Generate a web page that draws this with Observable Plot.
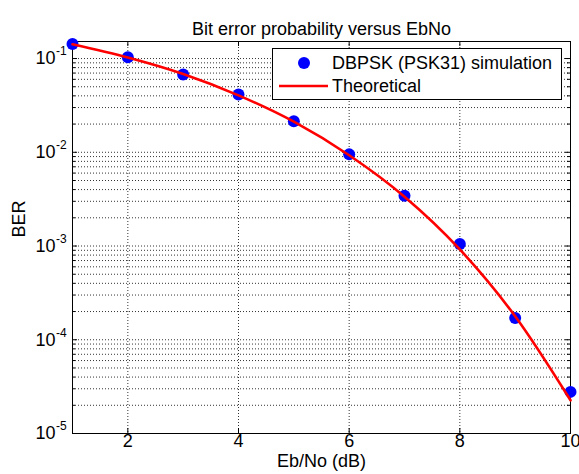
<!DOCTYPE html>
<html>
<head>
<meta charset="utf-8">
<script src="https://cdn.jsdelivr.net/npm/d3@7"></script>
<script src="https://cdn.jsdelivr.net/npm/@observablehq/plot@0.6"></script>
<style>
  html, body { margin: 0; padding: 0; background: #fff; }
  #wrap { position: relative; width: 579px; height: 474px; font-family: "Liberation Sans", Arial, sans-serif; }
  #legend { position: absolute; left: 272px; top: 48px; width: 290px; height: 52px; border: 1px solid #000; background: #fff; box-sizing: border-box; }
  #legend .row { position: absolute; left: 0; height: 20px; width: 100%; }
  #legend .lbl { position: absolute; left: 59px; top: 0; font-size: 18px; line-height: 20px; color: #000; white-space: nowrap; }
  #legend svg { position: absolute; left: 0; top: 0; }
</style>
</head>
<body>
<div id="wrap">
  <div id="chart"></div>
  <div id="legend"></div>
</div>
<script>
const titleText = "Bit error probability versus EbNo";
const xLabelText = "Eb/No (dB)";
const yLabelText = "BER";
const seriesNames = ["DBPSK (PSK31) simulation", "Theoretical"];

const ebno = [1, 2, 3, 4, 5, 6, 7, 8, 9, 10];
const berSim = [0.143, 0.103, 0.0676, 0.0414, 0.0214, 0.0095, 0.00343, 0.00105, 0.000171, 0.0000278];
const berTheory = [0.142, 0.1025, 0.0684, 0.0405, 0.0212, 0.0093, 0.00336, 0.00092, 0.000178, 0.0000226];

const xTicks = [2, 4, 6, 8, 10];
const xGrid = [2, 4, 6, 8];
const yDecades = [1e-5, 1e-4, 1e-3, 1e-2, 1e-1];
const yExponents = ["-5", "-4", "-3", "-2", "-1"];
const yDomain = [1e-5, 0.152];
const xDomain = [1, 10];

const yMinor = yDecades.flatMap(d => [2,3,4,5,6,7,8,9].map(k => k * d)).filter(v => v <= yDomain[1]);

const sim = ebno.map((x, i) => ({x, y: berSim[i]}));
const theory = ebno.map((x, i) => ({x, y: berTheory[i]}));
const yTickData = yDecades.map((v, i) => ({v, e: yExponents[i]}));

const W = 579, H = 474, mL = 72, mR = 9, mT = 41, mB = 41;
const fh = H - mT - mB, fw = W - mL - mR;
const gridStyle = {stroke: "#333", strokeWidth: 1, strokeDasharray: "1,2"};

const chart = Plot.plot({
  width: W, height: H,
  marginLeft: mL, marginRight: mR, marginTop: mT, marginBottom: mB,
  style: {fontFamily: "'Liberation Sans', Arial, sans-serif", background: "#fff", overflow: "visible"},
  x: {domain: xDomain, axis: null},
  y: {type: "log", domain: yDomain, axis: null},
  marks: [
    Plot.ruleX(xGrid, {x: d => d, ...gridStyle}),
    Plot.ruleY(yMinor, {y: d => d, ...gridStyle}),
    Plot.ruleY(yDecades, {y: d => d, ...gridStyle}),
    // inward ticks
    Plot.ruleX(xGrid, {x: d => d, insetTop: fh - 5, stroke: "#000"}),
    Plot.ruleX(xGrid, {x: d => d, insetBottom: fh - 5, stroke: "#000"}),
    Plot.ruleY(yDecades, {y: d => d, insetRight: fw - 5, stroke: "#000"}),
    Plot.ruleY(yDecades, {y: d => d, insetLeft: fw - 5, stroke: "#000"}),
    Plot.ruleY(yMinor, {y: d => d, insetRight: fw - 3, stroke: "#000"}),
    Plot.ruleY(yMinor, {y: d => d, insetLeft: fw - 3, stroke: "#000"}),
    Plot.frame({stroke: "#000", strokeWidth: 1}),
    // data
    Plot.dot(sim, {x: "x", y: "y", r: 6, fill: "#0000ff", stroke: "none"}),
    Plot.line(theory, {x: "x", y: "y", stroke: "#ff0000", strokeWidth: 2.6, curve: "monotone-x"}),
    // tick labels
    Plot.text(xTicks, {x: d => d, frameAnchor: "bottom", dy: 13, text: d => String(d), fontSize: 18, fill: "#000"}),
    Plot.text(yTickData, {y: "v", frameAnchor: "left", dx: -17, text: () => "10", textAnchor: "end", fontSize: 18, fill: "#000"}),
    Plot.text(yTickData, {y: "v", frameAnchor: "left", dx: -16.5, dy: -7, text: "e", textAnchor: "start", fontSize: 12, fill: "#000"}),
    // labels
    Plot.text([titleText], {frameAnchor: "top", dy: -19, text: d => d, fontSize: 18, fill: "#000"}),
    Plot.text([xLabelText], {frameAnchor: "bottom", dy: 33, text: d => d, fontSize: 18, fill: "#000"}),
    Plot.text([yLabelText], {frameAnchor: "left", dx: -53, rotate: -90, text: d => d, fontSize: 18, fill: "#000"})
  ]
});
document.getElementById("chart").appendChild(chart);

// legend
const legend = document.getElementById("legend");
const rows = [
  {top: 4, name: seriesNames[0], kind: "dot"},
  {top: 27, name: seriesNames[1], kind: "line"}
];
for (const r of rows) {
  const row = document.createElement("div");
  row.className = "row";
  row.style.top = r.top + "px";
  const sym = r.kind === "dot"
    ? `<svg width="59" height="20"><circle cx="31" cy="10" r="6" fill="#0000ff"/></svg>`
    : `<svg width="59" height="20"><line x1="6" x2="55" y1="10" y2="10" stroke="#ff0000" stroke-width="2.6"/></svg>`;
  row.innerHTML = sym + `<span class="lbl"></span>`;
  row.querySelector(".lbl").textContent = r.name;
  legend.appendChild(row);
}
</script>
</body>
</html>
